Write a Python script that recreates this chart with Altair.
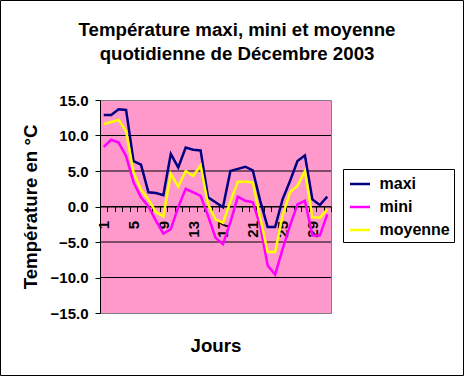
import altair as alt
import pandas as pd

# ---- data ----
days = list(range(1, 32))
maxi = [12.9, 12.9, 13.7, 13.6, 6.4, 5.9, 2.0, 1.9, 1.6, 7.4, 5.5, 8.3, 8.0, 7.9, 1.3, 0.6,
        -0.1, 5.0, 5.3, 5.6, 5.1, 0.8, -2.9, -2.9, 1.0, 3.6, 6.4, 7.2, 1.0, 0.2, 1.4]
mini = [8.4, 9.4, 9.0, 7.1, 3.4, 1.3, 0.0, -2.0, -3.8, -3.2, -0.1, 2.5, 2.0, 1.5, -1.3, -4.4,
        -5.3, -2.2, 1.4, 0.8, 0.6, -2.7, -8.3, -9.6, -6.0, -2.7, 0.3, 0.8, -4.1, -4.1, -1.1]
moyenne = [11.6, 11.9, 12.2, 10.6, 4.8, 2.4, 1.0, -0.8, -1.4, 4.6, 2.8, 5.0, 4.3, 5.8, 0.3, -1.8,
           -2.3, 0.7, 3.5, 3.5, 3.4, -1.6, -6.4, -6.4, -1.3, 2.0, 2.9, 5.0, -1.5, -1.6, -0.4]
series = ["maxi", "mini", "moyenne"]
colors = ["#000080", "#FF00FF", "#FFFF00"]
y_ticks = [-15, -10, -5, 0, 5, 10, 15]
grid_values = [-10, -5, 0, 5, 10]
x_boundaries = [d - 0.5 for d in days] + [31.5]
title_lines = ["Température maxi, mini et moyenne", "quotidienne de Décembre 2003"]
y_title = "Température en °C"
x_title = "Jours"

rows = []
for name, vals in zip(series, [maxi, mini, moyenne]):
    for d, v in zip(days, vals):
        rows.append({"Jour": d, "Temp": v, "Série": name})
df = pd.DataFrame(rows)

FONT = "Liberation Sans"
W, H = 231, 213
xscale = alt.Scale(domain=[0.5, 31.5], nice=False, zero=False)
yscale = alt.Scale(domain=[-15, 15], nice=False, zero=False)

x_axis = alt.Axis(
    values=x_boundaries,
    labelExpr="(datum.value - 0.5) % 4 == 0 ? format(datum.value + 0.5, 'd') : ''",
    labelOffset=W / 62,
    labelAngle=270, labelAlign="right", labelBaseline="middle",
    labelPadding=9, labelOverlap=False, labelFlush=False, labelBound=False,
    labelFont=FONT, labelFontSize=15, labelFontWeight="bold", labelColor="black",
    tickSize=5, tickColor="black", domainColor="black", grid=False,
    offset=-H / 2,
    title=x_title, titleFont=FONT, titleFontSize=18.67, titleFontWeight="bold", titleColor="black",
    titleX=W / 2, titleY=144.5, titleAlign="center", titleBaseline="alphabetic", titleAngle=0,
)

y_axis = alt.Axis(
    values=y_ticks, format=".1f",
    labelFont=FONT, labelFontSize=15, labelFontWeight="bold", labelColor="black", labelPadding=7,
    tickSize=5, tickColor="black", domainColor="black", grid=False,
    title=y_title, titleFont=FONT, titleFontSize=18.67, titleFontWeight="bold", titleColor="black",
    titleX=-70, titleY=H / 2, titleAngle=270, titleAlign="center", titleBaseline="middle",
)

grid = alt.Chart(pd.DataFrame({"v": grid_values})).mark_rule(color="black", strokeWidth=1).encode(
    y=alt.Y("v:Q", scale=yscale, axis=y_axis)
)

lines = alt.Chart(df).mark_line(strokeWidth=2.5).encode(
    x=alt.X("Jour:Q", scale=xscale, axis=x_axis),
    y=alt.Y("Temp:Q", scale=yscale, axis=y_axis),
    color=alt.Color(
        "Série:N",
        scale=alt.Scale(domain=series, range=colors),
        legend=alt.Legend(
            title=None, orient="none", legendX=243, legendY=69, direction="vertical",
            fillColor="white", strokeColor="black", padding=3.5, rowPadding=3,
            symbolType="stroke", symbolSize=400, symbolStrokeWidth=2.5, symbolOffset=2,
            labelFont=FONT, labelFontSize=16, labelFontWeight="bold", labelColor="black",
            labelOffset=8, labelLimit=0,
        ),
    ),
)

border = alt.Chart(pd.DataFrame({"a": [0]})).mark_rect(filled=False, stroke="black", strokeWidth=1).encode(
    x=alt.value(-99.5), x2=alt.value(W + 132.5), y=alt.value(-99.5), y2=alt.value(H + 62.5)
)

chart = alt.layer(grid, lines, border).properties(
    width=W, height=H,
    title=alt.TitleParams(
        text=title_lines, font=FONT, fontSize=18.67, fontWeight="bold", color="black",
        anchor="middle", dx=21.5, lineHeight=24, baseline="alphabetic", offset=-79,
    ),
    autosize=alt.AutoSizeParams(type="none"),
    padding={"left": 100, "top": 100, "right": 133, "bottom": 63},
    background="white",
).configure_view(fill="#FF99CC", stroke="#808080", strokeWidth=1)

chart.save("out.html", embed_options={"renderer": "svg", "actions": False})
